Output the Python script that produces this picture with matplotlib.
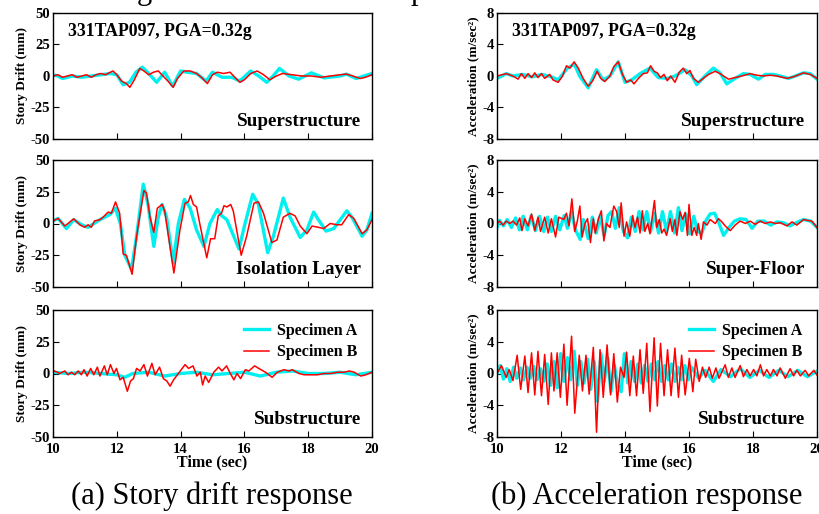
import numpy as np
import matplotlib
matplotlib.use("Agg")
import matplotlib.pyplot as plt

plt.rcParams["font.family"] = ["Liberation Serif", "DejaVu Serif"]
plt.rcParams["font.weight"] = "bold"
plt.rcParams["axes.unicode_minus"] = False

# ---- data: [time (s), value] pairs ----
# story drift (mm)
drift_super_a = [[10.0, 1], [10.15, 0], [10.3, -2], [10.6, 0], [10.9, -1], [11.2, 0], [11.5, 1], [11.8, 2],
                 [12.0, 1], [12.2, -7], [12.4, -5], [12.6, 3], [12.8, 7], [13.0, 2], [13.25, -5], [13.5, 3],
                 [13.75, -8], [14.0, 4], [14.2, 3], [14.5, 2], [14.8, -4], [15.0, 3], [15.3, -1], [15.6, -1],
                 [15.85, -4], [16.2, 4], [16.45, 0], [16.7, -5], [16.9, 0], [17.1, 6], [17.4, 0], [17.7, -2.5],
                 [17.9, 0], [18.1, 2.5], [18.5, -1.5], [19.0, 0], [19.2, 1.5], [19.5, -2], [19.75, 0], [20.0, 2]]
drift_super_b = [[10.0, 0], [10.15, 1], [10.3, -1], [10.45, 0], [10.6, 1], [10.75, -1], [10.9, 0], [11.05, 1],
                 [11.2, -1], [11.35, 1], [11.5, 2], [11.65, 1], [11.8, 3], [11.88, 4], [12.0, 1], [12.15, -4],
                 [12.3, -6], [12.41, -9], [12.55, -3], [12.72, 6], [12.85, 4], [13.0, 1], [13.15, 3], [13.3, 4],
                 [13.45, 0], [13.6, -4], [13.77, -9], [13.9, -2], [14.1, 4], [14.3, 4], [14.5, 2], [14.65, -1],
                 [14.84, -6], [15.0, 1], [15.15, 3], [15.35, 2], [15.55, 3], [15.7, -1], [15.86, -5], [16.0, -3],
                 [16.2, 2], [16.4, 4], [16.6, 1], [16.8, -3], [17.0, 0], [17.2, 2], [17.5, 1], [17.8, 0],
                 [18.1, 0], [18.4, -1], [18.7, 0], [19.0, 1], [19.2, 1.5], [19.4, 0], [19.63, -2], [19.8, -1],
                 [20.0, 1]]
drift_iso_a = [[10.0, 2], [10.16, 4], [10.42, -4], [10.65, 3], [10.9, -1], [11.1, -3], [11.47, 3], [11.78, 7],
               [11.96, 12], [12.11, 0], [12.25, -25], [12.46, -36], [12.62, -10], [12.83, 31], [12.98, 15],
               [13.16, -18], [13.3, 5], [13.42, 15], [13.56, 5], [13.77, -31], [13.93, 0], [14.12, 19],
               [14.3, 12], [14.5, -5], [14.73, -18], [14.92, 0], [15.15, 11], [15.29, 6], [15.45, 3],
               [15.83, -20], [16.02, 0], [16.26, 23], [16.44, 15], [16.73, -23], [16.91, -10], [17.22, 20],
               [17.43, 5], [17.75, -11], [17.96, -5], [18.17, 9], [18.32, 3], [18.56, -6], [18.8, -4],
               [19.21, 10], [19.37, 5], [19.69, -10], [19.84, -5], [20.0, 8]]
drift_iso_b = [[10.0, 2], [10.16, 4], [10.37, -2], [10.65, 3.7], [10.84, -1], [10.99, -3], [11.1, -1], [11.2, -3],
               [11.3, 2], [11.47, 3], [11.57, 5], [11.73, 9], [11.83, 8], [11.96, 17], [12.09, 8], [12.2, -24],
               [12.3, -25], [12.48, -40], [12.62, -10], [12.85, 26], [12.93, 24], [13.04, 5], [13.16, -7],
               [13.27, 12], [13.42, 15], [13.5, 10], [13.79, -39], [13.98, -5], [14.14, 16], [14.24, 17],
               [14.31, 22], [14.4, 15], [14.5, 13], [14.6, 0], [14.82, -27], [14.94, -12], [15.07, -12],
               [15.18, 6], [15.28, 8], [15.36, 14], [15.45, 13], [15.57, 15], [15.65, 10], [15.9, -25],
               [16.07, -10], [16.3, 16], [16.44, 17], [16.6, 8], [16.86, -15], [17.02, -13], [17.22, 5],
               [17.43, 8], [17.59, 6], [17.75, -2], [17.96, -8], [18.12, -2], [18.32, -3], [18.48, -4],
               [18.69, 0], [18.9, -1], [19.05, -1], [19.27, 7], [19.43, 4], [19.69, -8], [19.84, -5], [20.0, 3]]
drift_sub_a = [[10.0, 1], [10.5, 0], [11.0, 1], [11.5, 0], [12.0, -1], [12.25, -3], [12.5, 0], [13.0, 1],
               [13.5, -2], [14.0, 0], [14.5, 1], [15.0, -1], [15.5, 0], [16.0, 1], [16.5, -2], [17.0, 1],
               [17.5, 2], [18.0, 0], [18.5, 0], [19.0, 1], [19.5, -1], [20.0, 1]]
drift_sub_b = [[10.0, 1], [10.05, 2], [10.21, 0], [10.37, 2], [10.47, -1], [10.58, 1], [10.68, -1], [10.79, 2],
               [10.89, -1], [10.97, 3], [11.07, -2], [11.18, 4], [11.28, -1], [11.39, 5], [11.47, -2],
               [11.61, 6], [11.7, -1], [11.8, 7], [11.91, 0], [11.99, 4], [12.1, -5], [12.2, -3], [12.33, -14],
               [12.43, -6], [12.52, -4], [12.62, 4], [12.73, 2], [12.85, 7], [12.96, -2], [13.1, 8], [13.2, -1],
               [13.34, 5], [13.46, -4], [13.57, -6], [13.67, -10], [13.78, -5], [13.93, 0], [14.14, 7],
               [14.25, 4], [14.39, 6], [14.51, -2], [14.62, 1], [14.69, -9], [14.77, -2], [14.88, -7],
               [15.04, 1], [15.19, 5], [15.3, 2], [15.44, 6], [15.56, 0], [15.67, -5], [15.77, 0], [15.88, -4],
               [16.03, 3], [16.14, 2], [16.32, 6], [16.45, 4], [16.66, 1], [16.87, -3], [17.03, 1], [17.24, 3],
               [17.4, 2], [17.5, 3], [17.71, 0], [17.87, -1], [18.08, -1], [18.29, -1], [18.5, 0], [18.71, 0],
               [18.92, 1], [19.13, 1], [19.29, 2], [19.44, 1], [19.65, -2], [19.81, -1], [20.0, 1]]

# acceleration (m/sec2)
acc_super_a = [[10.0, -0.3], [10.29, 0.3], [10.5, 0], [10.8, 0.2], [11.1, -0.1], [11.4, 0.2], [11.7, -0.1],
               [11.91, -0.5], [12.2, 1.0], [12.42, 1.5], [12.58, 0], [12.85, -1.5], [13.11, 0.8], [13.32, -0.5],
               [13.53, 0], [13.79, 1.8], [14.0, -0.8], [14.21, -0.5], [14.47, 0.3], [14.78, 1.0], [15.04, -0.2],
               [15.35, -0.3], [15.56, 0], [15.88, 0.8], [16.09, 0], [16.24, -1.1], [16.5, 0], [16.76, 1.0],
               [16.97, 0.4], [17.18, -1.0], [17.44, -0.3], [17.7, 0.3], [17.91, 0.2], [18.17, -0.4],
               [18.38, 0.2], [18.64, 0.2], [18.85, 0], [19.11, -0.3], [19.32, 0], [19.58, 0.4], [19.79, 0.3],
               [20.0, -0.4]]
acc_super_b = [[10.0, 0], [10.29, 0.3], [10.5, 0], [10.66, -0.4], [10.76, 0.3], [10.87, -0.3], [10.97, 0.3],
               [11.08, -0.2], [11.18, 0.4], [11.28, -0.2], [11.39, 0.3], [11.49, -0.3], [11.65, 0.2],
               [11.75, -0.5], [11.91, -0.8], [12.05, 0], [12.17, 1.3], [12.28, 1.0], [12.41, 1.8], [12.54, 1.0],
               [12.69, -0.3], [12.85, -1.3], [12.99, -0.6], [13.13, 0.6], [13.24, -0.3], [13.37, -0.7],
               [13.53, 0], [13.65, 1.2], [13.79, 1.8], [13.92, 0.2], [14.05, -0.8], [14.18, -0.5],
               [14.28, -1.0], [14.42, -0.3], [14.57, 0.3], [14.7, 0.4], [14.8, 1.3], [14.91, 0.6], [15.01, 0.4],
               [15.11, -0.2], [15.22, 0.2], [15.32, -0.6], [15.43, 0], [15.56, -0.8], [15.7, 0.5], [15.82, 1.0],
               [15.93, 0.3], [16.03, 0.7], [16.14, -0.3], [16.29, -0.8], [16.45, -0.3], [16.61, 0.2],
               [16.82, 0.6], [16.97, 0.3], [17.23, -0.4], [17.44, -0.2], [17.65, 0], [17.91, 0.3], [18.12, 0.1],
               [18.33, 0], [18.54, 0.1], [18.75, 0], [19.06, -0.3], [19.27, -0.1], [19.58, 0.4], [19.79, 0.2],
               [20.0, -0.3]]
acc_floor_a = [[10.0, -0.5], [10.08, 0.4], [10.2, -0.3], [10.32, 0.5], [10.45, -0.5], [10.58, 0.7], [10.7, -0.8],
               [10.82, 0.9], [10.95, -0.8], [11.07, 1.0], [11.2, -0.9], [11.33, 0.9], [11.46, -1.0], [11.58, 0.8],
               [11.7, -1.0], [11.83, 0.9], [11.96, -0.8], [12.1, 1.0], [12.2, -0.6], [12.33, 1.5], [12.45, -0.8],
               [12.6, -2.0], [12.7, 0.5], [12.85, -1.9], [12.98, 0.8], [13.1, -1.2], [13.22, 0.9], [13.35, -1.5],
               [13.47, 1.0], [13.58, 1.5], [13.7, -0.6], [13.82, 2.0], [13.95, -1.0], [14.08, -1.8], [14.2, 0.8],
               [14.32, -1.0], [14.44, 1.5], [14.56, -0.8], [14.68, 1.5], [14.8, -1.0], [14.92, 1.3], [15.05, -1.2],
               [15.17, 1.5], [15.3, -1.0], [15.42, 1.5], [15.55, -1.2], [15.67, 2.0], [15.78, -0.9], [15.9, 1.2],
               [16.02, -1.3], [16.15, 0.9], [16.27, -1.0], [16.4, -1.2], [16.52, 0.3], [16.66, 1.2], [16.8, 1.3],
               [16.94, 0], [17.08, -1.5], [17.25, -0.5], [17.42, 0.3], [17.6, 0.6], [17.78, 0.5], [17.97, -0.6],
               [18.15, 0.3], [18.35, 0.3], [18.55, -0.2], [18.75, 0.2], [18.95, 0.1], [19.15, -0.3], [19.35, 0.1],
               [19.58, 0.5], [19.8, 0.3], [20.0, -0.5]]
acc_floor_b = [[10.0, 0], [10.08, 0.3], [10.19, -0.2], [10.29, 0.3], [10.4, 0], [10.5, 0.3], [10.61, -0.2],
               [10.71, 0.7], [10.78, -0.9], [10.87, 0.6], [10.97, -0.3], [11.08, 1.2], [11.18, -0.9], [11.28, 0.8],
               [11.36, -1.0], [11.49, 0.8], [11.6, -1.2], [11.7, 0.6], [11.83, -1.7], [11.93, 0.8], [12.09, 0.5],
               [12.17, 1.3], [12.25, -0.3], [12.34, 3.1], [12.43, -1.0], [12.51, 0.3], [12.59, 2.2], [12.66, -1.7],
               [12.75, 0], [12.83, 0.6], [12.92, -2.4], [13.01, 0.6], [13.07, -1.2], [13.17, 0.6], [13.26, 1.6],
               [13.34, -2.2], [13.42, 0], [13.53, -0.5], [13.58, 0.7], [13.65, 2.2], [13.74, 1.5], [13.82, -0.5],
               [13.88, 2.6], [13.97, -1.6], [14.05, 0.2], [14.15, -1.6], [14.24, 1.0], [14.31, -0.5], [14.39, 0.8],
               [14.47, -1.2], [14.54, 1.6], [14.62, -1.0], [14.71, 0], [14.78, -1.3], [14.92, 2.9], [14.99, -0.5],
               [15.07, 0.5], [15.15, -1.2], [15.22, -0.7], [15.3, -1.5], [15.41, 0.6], [15.48, -1.0], [15.56, 0.5],
               [15.62, -1.5], [15.72, 1.5], [15.8, 0.5], [15.88, 1.4], [15.95, -1.5], [16.0, 2.4], [16.09, -1.5],
               [16.16, -0.5], [16.24, -1.5], [16.29, 0], [16.38, -2.0], [16.45, 0.2], [16.56, -0.2], [16.66, 0.5],
               [16.82, 0], [16.92, 0.6], [17.03, 0.2], [17.13, -0.3], [17.29, -0.9], [17.44, -0.2], [17.6, 0.3],
               [17.76, 0], [17.91, 0.3], [18.07, -0.1], [18.23, 0.3], [18.38, 0], [18.54, 0.2], [18.7, 0],
               [18.85, 0.1], [19.06, -0.3], [19.22, 0.2], [19.37, -0.2], [19.58, 0.5], [19.69, 0.4], [19.84, 0.3],
               [20.0, -0.5]]
acc_sub_a = [[10.0, 0], [10.1, 1.0], [10.2, -0.7], [10.31, 0.6], [10.41, -1.0], [10.52, 0.8], [10.62, -0.6],
             [10.73, 0.7], [10.83, -0.8], [10.94, 0.8], [11.04, -0.6], [11.15, 0.9], [11.25, -0.8], [11.36, 0.6],
             [11.46, -1.0], [11.57, 1.2], [11.67, -1.5], [11.78, 1.5], [11.88, -1.8], [11.99, 2.5], [12.09, -1.0],
             [12.2, 2.0], [12.3, -0.8], [12.41, 2.8], [12.51, -1.5], [12.62, 1.5], [12.72, -1.2], [12.83, 1.8],
             [12.93, -2.0], [13.04, 1.5], [13.14, -3.5], [13.25, 2.5], [13.35, -1.0], [13.46, 2.0], [13.56, -2.3],
             [13.67, 1.0], [13.77, -1.5], [13.88, -2.3], [13.98, 2.5], [14.09, -1.2], [14.19, 1.5], [14.3, -1.0],
             [14.4, 1.2], [14.51, -1.2], [14.61, 1.0], [14.72, -1.0], [14.82, 1.2], [14.93, -0.8], [15.03, 1.5],
             [15.14, -1.0], [15.24, 1.0], [15.35, -0.8], [15.45, 1.2], [15.56, -1.0], [15.66, 0.8], [15.77, -0.8],
             [15.87, 1.0], [15.98, -0.8], [16.08, 0.8], [16.3, -0.6], [16.5, 0.4], [16.76, -1.0], [17.0, 0.5],
             [17.3, -0.4], [17.6, 0.6], [17.9, -0.5], [18.2, 0.4], [18.5, -0.5], [18.8, 0.4], [19.1, -0.4],
             [19.4, 0.4], [19.7, -0.4], [20.0, 0.3]]
acc_sub_b = [[10.0, 0], [10.14, 1.0], [10.29, -0.5], [10.38, 0.5], [10.5, -0.9], [10.63, 2.3], [10.74, -2.0],
             [10.87, 2.2], [10.97, -2.4], [11.08, 2.6], [11.18, -2.7], [11.28, 2.8], [11.39, -2.8], [11.49, 2.4],
             [11.6, -3.9], [11.7, 2.6], [11.78, -2.2], [11.88, 2.6], [11.98, -3.0], [12.09, 3.7], [12.19, -4.0],
             [12.33, 4.7], [12.43, -5.0], [12.57, 2.3], [12.67, -2.2], [12.78, 2.3], [12.88, -2.6], [13.01, 3.3],
             [13.11, -7.4], [13.22, 3.0], [13.32, -3.0], [13.44, 3.6], [13.55, -2.7], [13.65, 2.5], [13.76, -3.6],
             [13.86, 0.8], [13.97, -0.5], [14.05, 2.7], [14.15, -2.8], [14.26, 2.2], [14.36, -2.8], [14.47, 3.0],
             [14.57, -2.5], [14.68, 3.8], [14.78, -4.8], [14.91, 4.5], [15.01, -4.1], [15.11, 3.8], [15.22, -2.8],
             [15.33, 3.0], [15.44, -2.8], [15.56, 3.2], [15.67, -3.0], [15.77, 2.3], [15.88, -2.7], [16.01, 1.9],
             [16.12, -2.3], [16.21, 1.8], [16.32, -1.0], [16.42, 0.8], [16.52, -0.5], [16.63, 0.8], [16.73, -0.6],
             [16.84, 0.7], [16.94, -0.6], [17.13, 1.1], [17.23, -0.5], [17.34, 0.7], [17.44, -0.5], [17.6, 1.0],
             [17.7, -0.4], [17.81, 0.5], [17.91, -0.3], [18.02, 0.5], [18.12, -0.3], [18.23, 1.1], [18.33, -0.3],
             [18.43, 0.5], [18.54, -0.3], [18.64, 0.5], [18.75, -0.3], [18.85, 0.7], [19.01, -0.6], [19.16, 0.6],
             [19.27, -0.3], [19.37, 0.4], [19.48, -0.3], [19.63, 0.4], [19.74, -0.3], [19.9, 0.4], [20.0, -0.2]]

drift_ticks = [-50, -25, 0, 25, 50]
acc_ticks = [-8, -4, 0, 4, 8]
time_ticks = [10, 12, 14, 16, 18, 20]
drift_panels = [("Superstructure", drift_super_a, drift_super_b),
                ("Isolation Layer", drift_iso_a, drift_iso_b),
                ("Substructure", drift_sub_a, drift_sub_b)]
acc_panels = [("Superstructure", acc_super_a, acc_super_b),
              ("Super-Floor", acc_floor_a, acc_floor_b),
              ("Substructure", acc_sub_a, acc_sub_b)]
record = "331TAP097, PGA=0.32g"

W, H = 820, 514
fig = plt.figure(figsize=(W / 100, H / 100), dpi=100)

rows = [(13, 139), (160, 287), (310, 437)]
cols = [(53, 372), (497, 817)]
CYAN = "#00f0f0"
RED = "#ff0000"


def make_ax(col, row):
    x0, x1 = cols[col]
    y0, y1 = rows[row]
    return fig.add_axes([x0 / W, 1 - y1 / H, (x1 - x0) / W, (y1 - y0) / H])


def draw_column(col, panels, ticks, ylabel, lim):
    for row, (name, a, b) in enumerate(panels):
        ax = make_ax(col, row)
        a = np.array(a)
        b = np.array(b)
        ax.plot(a[:, 0], a[:, 1], color=CYAN, lw=2.4, label="Specimen A", solid_joinstyle="round")
        ax.plot(b[:, 0], b[:, 1], color=RED, lw=1.1, label="Specimen B")
        ax.set_xlim(10, 20)
        ax.set_ylim(-lim, lim)
        ax.set_xticks(time_ticks)
        ax.set_yticks(ticks)
        ax.tick_params(direction="in", length=4, width=0.8, labelsize=10.5, pad=4.5)
        ax.tick_params(axis="y", labelsize=10.5, pad=2)
        for s in ax.spines.values():
            s.set_linewidth(1.0)
        ax.set_ylabel(ylabel, fontsize=9.5, fontweight="bold", labelpad=2)
        ax.text(0.965 if col == 0 else 0.9625, 0.105, name, transform=ax.transAxes,
                ha="right", va="baseline", fontsize=13.8, fontweight="bold")
        if row == 0:
            ax.text(0.047, 0.82, record, transform=ax.transAxes, ha="left", va="baseline",
                    fontsize=12.8, fontweight="bold")
        if row == 2:
            ax.set_xticklabels([str(t) for t in time_ticks])
            ax.set_xlabel("Time (sec)", fontsize=11.5, fontweight="bold", labelpad=-1)
            ax.legend(loc="upper right", bbox_to_anchor=(0.975, 0.95), frameon=False,
                      prop={"size": 11.5, "weight": "bold"}, handlelength=1.6,
                      handletextpad=0.5, labelspacing=0.35, borderaxespad=0)
        else:
            ax.set_xticklabels([])
    return ax


draw_column(0, drift_panels, drift_ticks, "Story Drift (mm)", 50)
draw_column(1, acc_panels, acc_ticks, "Acceleration (m/sec²)", 8)

fig.text(212 / W, 1 - 504 / H, "(a) Story drift response", ha="center", va="baseline",
         fontsize=22, fontweight="normal")
fig.text(647 / W, 1 - 504 / H, "(b) Acceleration response", ha="center", va="baseline",
         fontsize=22, fontweight="normal")
# descenders of a caption line cut off above the figure
fig.text(137 / W, 1 + 1 / H, "g", ha="left", va="baseline", fontsize=22, fontweight="normal")
fig.text(411 / W, 1 + 1 / H, "p", ha="left", va="baseline", fontsize=22, fontweight="normal")

fig.savefig("out.png", dpi=100)
